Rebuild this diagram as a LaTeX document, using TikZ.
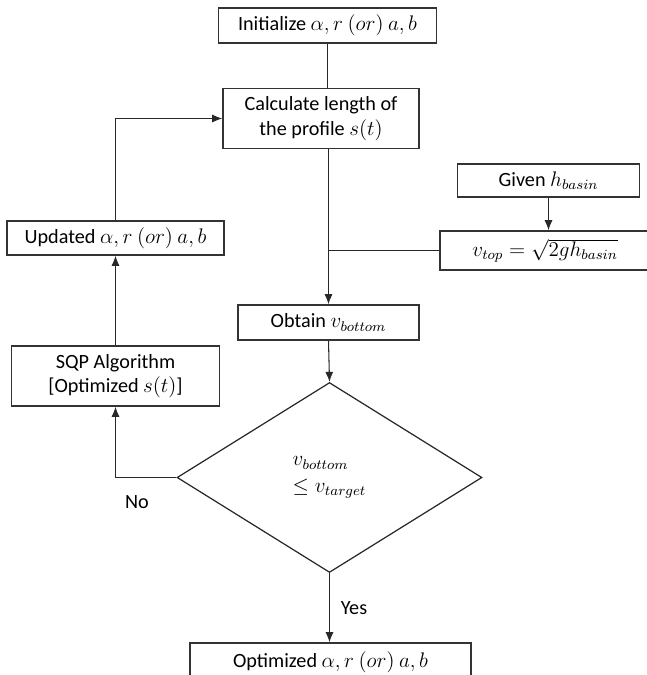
\documentclass[tikz,border=0pt]{standalone}
\usepackage{amsmath}
\usepackage{amssymb}
\usepackage{fontspec}
\setmainfont{Carlito}
\usepackage{tikz}
\usetikzlibrary{shapes.geometric,arrows.meta}
\usepackage{xcolor}
\definecolor{boxline}{RGB}{51, 51, 51}
\definecolor{flowline}{RGB}{40, 40, 40}

\begin{document}
\begin{tikzpicture}[
        x=0.02cm, y=-0.02cm,
        font=\fontsize{11.5}{14}\selectfont,
        % Node styles
        process/.style={draw=boxline, line width=0.9pt, fill=white, align=center, inner sep=2pt},
        decision/.style={draw=flowline, line width=0.7pt, diamond, inner sep=0pt, minimum width=6.1cm, minimum height=3.8cm, align=left},
        flow/.style={draw=flowline, line width=0.6pt},
        arrow/.style={flow, -{Latex[length=2mm, width=1.6mm]}},
        answer/.style={font=\fontsize{11.5}{14}\selectfont}
    ]
    \useasboundingbox (0, 0) rectangle (646, 675);

    % Main column
    \node[process, minimum width=4.36cm, minimum height=0.7cm] (init) at (327.5, 25.5) {Initialize $\alpha, r~(or)~a, b$};
    \node[process, minimum width=3.92cm, minimum height=1.2cm] (calc) at (321, 118.5) {Calculate length of\\the profile $s(t)$};
    \node[process, minimum width=3.62cm, minimum height=0.7cm] (obtain) at (328.5, 322.5) {Obtain $v_{bottom}$};
    \node[decision] (check) at (329.5, 477.5) {$v_{bottom}$\\[1pt]$\le v_{target}$};
    \node[process, minimum width=5.62cm, minimum height=0.76cm] (final) at (330.5, 662) {Optimized $\alpha, r~(or)~a, b$};

    % Basin inputs on the right
    \node[process, minimum width=3.64cm, minimum height=0.66cm] (given) at (548.5, 180.5) {Given $h_{basin}$};
    \node[process, minimum width=4.2cm, minimum height=0.78cm] (vtop) at (545, 250.5) {$v_{top} = \sqrt{2gh_{basin}}$};

    % Feedback loop on the left
    \node[process, minimum width=4.16cm, minimum height=1.2cm] (sqp) at (115.5, 376) {SQP Algorithm\\{[}Optimized $s(t)$]};
    \node[process, minimum width=4.34cm, minimum height=0.68cm] (upd) at (115.5, 238) {Updated $\alpha, r~(or)~a, b$};

    % Connectors down the main column
    \draw[flow] (init.south) -- (init.south |- calc.north);
    \draw[arrow] (obtain.north |- calc.south) -- (obtain.north);
    \draw[flow] (vtop.west) -- (obtain.north |- vtop.west);
    \draw[arrow] (given.south) -- (given.south |- vtop.north);
    \draw[arrow] (obtain.south) -- (check.north);
    \draw[arrow] (check.south) -- (check.south |- final.north);

    % Loop back when the check fails
    \draw[arrow] (check.west) -| (sqp.south);
    \draw[arrow] (sqp.north) -- (upd.south);
    \draw[arrow] (upd.north) |- (calc.west);

    % Branch labels
    \node[answer] (no) at (137, 502) {No};
    \node[answer] (yes) at (354, 608) {Yes};

\end{tikzpicture}
\end{document}
